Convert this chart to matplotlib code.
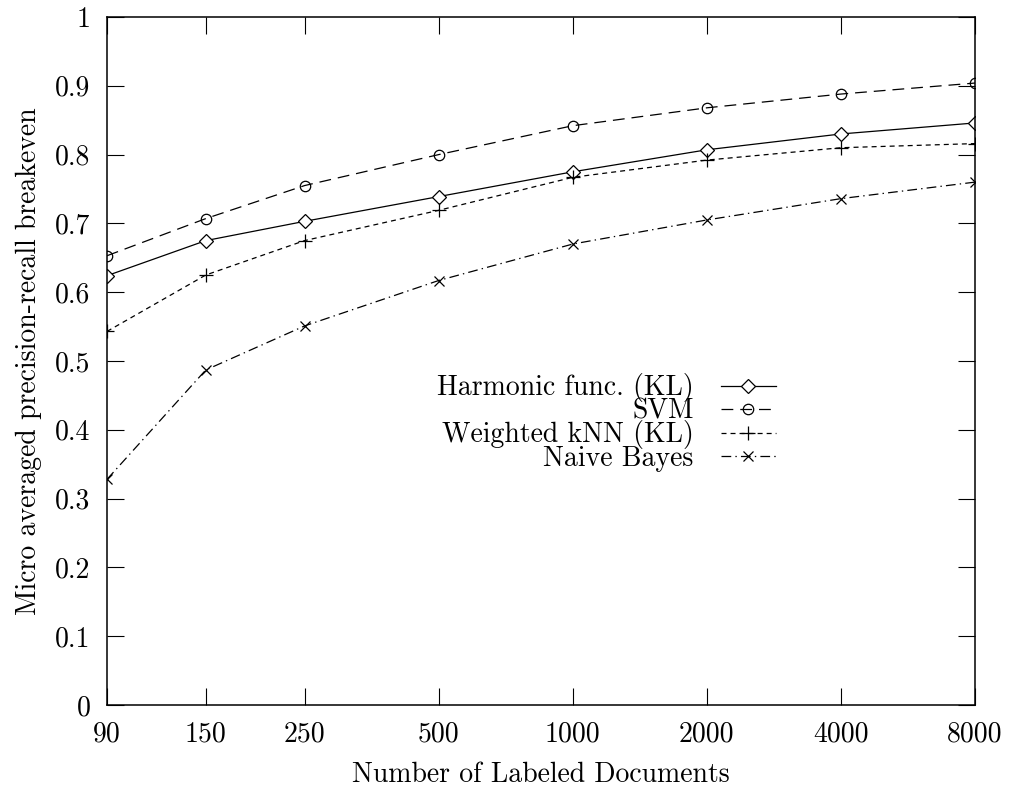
import matplotlib
matplotlib.use("Agg")
import matplotlib.pyplot as plt
from matplotlib.ticker import FixedLocator, NullLocator

plt.rcParams['font.family'] = ['cmr10', 'DejaVu Serif']
plt.rcParams['axes.formatter.use_mathtext'] = True
plt.rcParams['lines.scale_dashes'] = False

labeled_docs = [90, 150, 250, 500, 1000, 2000, 4000, 8000]
tick_labels = ["90", "150", "250", "500", "1000", "2000", "4000", "8000"]

harmonic = [0.624, 0.675, 0.703, 0.739, 0.775, 0.807, 0.830, 0.846]
svm = [0.653, 0.707, 0.755, 0.800, 0.842, 0.868, 0.888, 0.904]
knn = [0.543, 0.625, 0.675, 0.719, 0.767, 0.792, 0.810, 0.816]
naive_bayes = [0.328, 0.487, 0.551, 0.617, 0.670, 0.705, 0.736, 0.760]

fig = plt.figure(figsize=(10.13, 7.9), dpi=100)
ax = fig.add_axes([107/1013, 85/790, (975-107)/1013, (705-17)/790])

lw = 0.9
ax.plot(labeled_docs, harmonic, color='black', lw=lw, ls='-', marker='D', ms=7,
        mfc='white', mec='black', mew=0.9, label='Harmonic func. (KL)')
ax.plot(labeled_docs, svm, color='black', lw=lw, ls=(0, (8.5, 5)), marker='o', ms=7.5,
        mfc='none', mec='black', mew=0.9, label='SVM')
ax.plot(labeled_docs, knn, color='black', lw=lw, ls=(0, (3.6, 2.9)), marker='+', ms=10,
        mec='black', mew=0.9, label='Weighted kNN (KL)')
ax.plot(labeled_docs, naive_bayes, color='black', lw=lw, ls=(0, (7, 3, 1, 3)), marker='x', ms=7,
        mec='black', mew=0.9, label='Naive Bayes')

ax.set_xscale('log')
ax.set_xlim(90, 8000)
ax.set_ylim(0, 1)
ax.xaxis.set_major_locator(FixedLocator(labeled_docs))
ax.xaxis.set_minor_locator(NullLocator())
ax.set_xticklabels(tick_labels)
yt = [i / 10 for i in range(11)]
ax.set_yticks(yt)
ax.set_yticklabels(["0"] + ["0.%d" % i for i in range(1, 10)] + ["1"])

ax.tick_params(axis='both', which='major', direction='in', length=12, width=0.8,
               top=True, right=True, labelsize=20)
ax.tick_params(axis='x', pad=12)
ax.tick_params(axis='y', pad=12)
for s in ax.spines.values():
    s.set_linewidth(1.1)

ax.set_xlabel('Number of Labeled Documents', fontsize=20, labelpad=10)
ax.set_ylabel('Micro averaged precision-recall breakeven', fontsize=20, labelpad=9)

leg = ax.legend(loc='upper left', bbox_to_anchor=(0.38, 0.482), markerfirst=False,
                frameon=False, fontsize=20, handlelength=1.95, handletextpad=1.0,
                labelspacing=-0.15, numpoints=1, borderpad=0, borderaxespad=0)

fig.savefig('out.png', dpi=100)
